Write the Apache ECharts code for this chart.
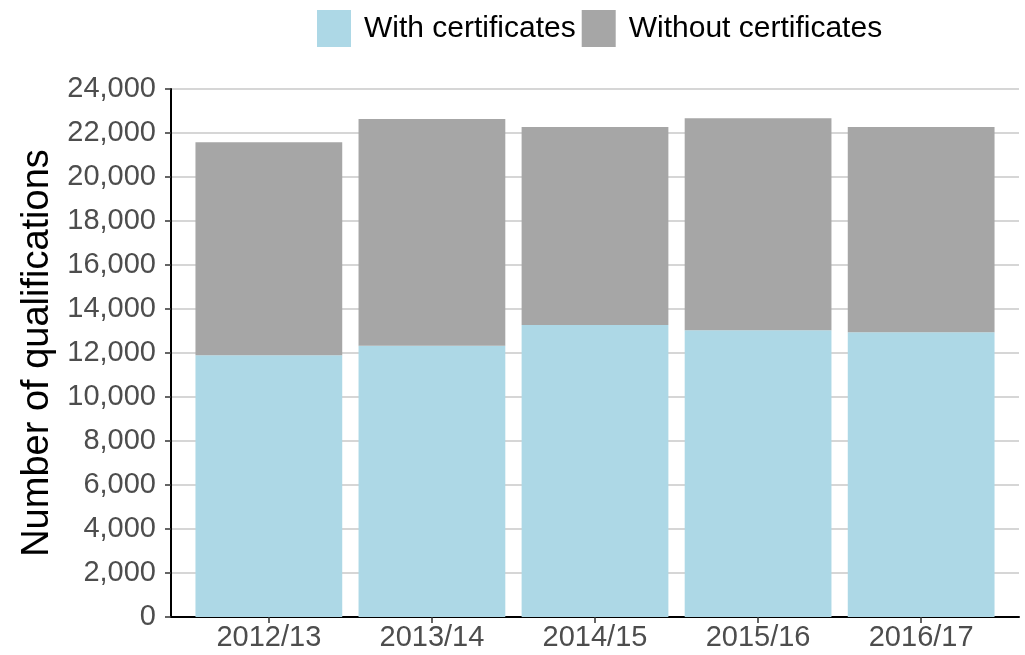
<!DOCTYPE html>
<html>
<head>
<meta charset="utf-8">
<script src="https://cdn.jsdelivr.net/npm/echarts@6/dist/echarts.min.js"></script>
<style>html,body{margin:0;padding:0;background:#fff}#c{width:1025px;height:655px}</style>
</head>
<body>
<div id="c"></div>
<script>
var categories = ['2012/13', '2013/14', '2014/15', '2015/16', '2016/17'];
var withCertificates = [11900, 12330, 13270, 13030, 12940];
var withoutCertificates = [9680, 10310, 9000, 9640, 9330];
var yTicks = [0, 2000, 4000, 6000, 8000, 10000, 12000, 14000, 16000, 18000, 20000, 22000, 24000];

var font = 'Liberation Sans, Arial, sans-serif';
var yMin = yTicks[0], yMax = yTicks[yTicks.length - 1];
// outer panel and inner (category) panel: ggplot-like 0.6 category padding
var gLeft = 171, gRight = 6, gTop = 89, gBottom = 38;
var catW = (1025 - gLeft - gRight) / (categories.length + 0.2);
var pad = catW * 0.1;

var chart = echarts.init(document.getElementById('c'));
chart.setOption({
  animation: false,
  backgroundColor: '#fff',
  textStyle: { fontFamily: font },
  legend: {
    left: 312, top: 5,
    itemWidth: 34, itemHeight: 37, itemGap: 6,
    icon: 'rect',
    textStyle: { fontSize: 30, color: '#000', fontFamily: font, padding: [3, 0, 0, 8] },
    data: ['With certificates', 'Without certificates']
  },
  grid: [
    { left: gLeft, right: gRight, top: gTop, bottom: gBottom },
    { left: gLeft + pad, right: gRight + pad, top: gTop, bottom: gBottom }
  ],
  xAxis: [
    {
      gridIndex: 0, type: 'value', min: 0, max: 1,
      splitLine: { show: false },
      axisLine: { show: true, onZero: false, lineStyle: { color: '#000', width: 2 } },
      axisTick: { show: false },
      axisLabel: { show: false }
    },
    {
      gridIndex: 1, type: 'category', data: categories,
      axisLine: { show: false },
      axisTick: { show: true, alignWithLabel: true, length: 6, lineStyle: { color: '#333', width: 1.5 } },
      axisLabel: { fontSize: 29, color: '#4d4d4d', margin: 6, fontFamily: font },
      splitLine: { show: false }
    }
  ],
  yAxis: [
    {
      gridIndex: 0, type: 'value',
      min: yMin, max: yMax, interval: 2000,
      name: 'Number of qualifications',
      nameLocation: 'middle',
      nameGap: 112,
      nameTextStyle: { fontSize: 38, color: '#000', fontFamily: font },
      axisLine: { show: true, lineStyle: { color: '#000', width: 2 } },
      axisTick: { show: true, length: 6, lineStyle: { color: '#333', width: 1.5 } },
      axisLabel: {
        fontSize: 29, color: '#4d4d4d', margin: 15, fontFamily: font,
        formatter: function (v) { return v.toLocaleString('en-US'); }
      },
      splitLine: { show: true, lineStyle: { color: '#c8c8c8', width: 1.5 } }
    },
    {
      gridIndex: 1, type: 'value', min: yMin, max: yMax, interval: 2000,
      show: false, splitLine: { show: false }
    }
  ],
  series: [
    {
      name: 'With certificates', type: 'bar', stack: 'total',
      xAxisIndex: 1, yAxisIndex: 1,
      barCategoryGap: '10%',
      itemStyle: { color: '#ADD8E6' },
      data: withCertificates
    },
    {
      name: 'Without certificates', type: 'bar', stack: 'total',
      xAxisIndex: 1, yAxisIndex: 1,
      barCategoryGap: '10%',
      itemStyle: { color: '#A6A6A6' },
      data: withoutCertificates
    }
  ]
});
</script>
</body>
</html>
